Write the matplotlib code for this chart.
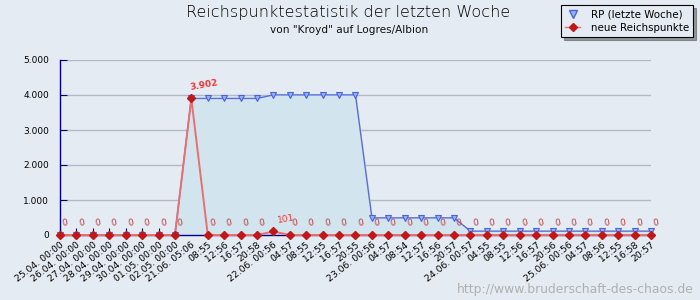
import matplotlib
matplotlib.use("Agg")
import matplotlib.pyplot as plt
from matplotlib.ticker import FuncFormatter
from matplotlib.lines import Line2D

labels = ["25.04. 00:00", "26.04. 00:00", "27.04. 00:00", "28.04. 00:00",
          "29.04. 00:00", "30.04. 00:00", "01.05. 00:00", "02.05. 00:00",
          "21.06. 05:06", "08:55", "12:56", "16:57", "20:58",
          "22.06. 00:56", "04:57", "08:55", "12:55", "16:57", "20:55",
          "23.06. 00:56", "04:57", "08:54", "12:57", "16:56", "20:57",
          "24.06. 00:57", "04:55", "08:55", "12:56", "16:57", "20:56",
          "25.06. 00:56", "04:57", "08:56", "12:55", "16:58", "20:57"]
rp = [0, 0, 0, 0, 0, 0, 0, 0,
      3902, 3902, 3902, 3902, 3902,
      4003, 4003, 4003, 4003, 4003, 4003,
      490, 490, 490, 490, 490, 490,
      110, 110, 110, 110, 110, 110,
      110, 110, 110, 110, 110, 110]
neu = [0, 0, 0, 0, 0, 0, 0, 0,
       3902, 0, 0, 0, 0,
       101, 0, 0, 0, 0, 0,
       0, 0, 0, 0, 0, 0,
       0, 0, 0, 0, 0, 0,
       0, 0, 0, 0, 0, 0]

bg = "#e5ebf2"
fig = plt.figure(figsize=(7, 3), dpi=100, facecolor=bg)
ax = fig.add_axes([60/700, 1-235/300, 591/700, 175/300], facecolor=bg)
x = list(range(len(labels)))

ax.yaxis.grid(True, color="#b4b8c4", linewidth=1)
ax.set_axisbelow(True)
ax.fill_between(x, rp, 0, color="#d2e4ee", zorder=1)
ax.plot(x, rp, color="#5a6ed6", linewidth=1, zorder=2)
ax.plot(x, rp, linestyle="none", marker="v", markersize=5,
        markerfacecolor="#8fb6f2", markeredgecolor="#4a62e0", markeredgewidth=0.8,
        zorder=3, clip_on=False)
ax.plot(x, neu, color="#e87070", linewidth=1.4, zorder=4, clip_on=False)
ax.plot(x, neu, linestyle="none", marker="D", markersize=3.8,
        markerfacecolor="#c01818", markeredgecolor="#c01818", zorder=5, clip_on=False)

for xi, v in zip(x, neu):
    txt = f"{v:,}".replace(",", ".")
    if v == 0:
        ax.annotate(txt, (xi, v), xytext=(3.5, 5), textcoords="offset points",
                    fontsize=6.5, color="#c04040", rotation=10, ha="center", va="bottom")
    else:
        ax.annotate(txt, (xi, v), xytext=(9, 5), textcoords="offset points",
                    fontsize=6.5, color="#f03838", rotation=10, ha="center", va="bottom",
                    fontweight="bold" if v > 1000 else "normal")

ax.set_xlim(0, len(labels) - 1)
ax.set_ylim(0, 5000)
ax.set_yticks([0, 1000, 2000, 3000, 4000, 5000])
ax.yaxis.set_major_formatter(FuncFormatter(lambda v, p: f"{int(v):,}".replace(",", ".")))
ax.set_xticks(x)
ax.set_xticklabels(labels, rotation=38, ha="right", rotation_mode="anchor", fontsize=6.7)
ax.tick_params(axis="x", direction="in", length=5, color="#000080", pad=4)
ax.tick_params(axis="y", direction="in", length=5, color="#000080", labelsize=6.5, pad=8)
for s in ["top", "right"]:
    ax.spines[s].set_visible(False)
for s in ["left", "bottom"]:
    ax.spines[s].set_color("#000080")
    ax.spines[s].set_linewidth(1)

fig.text(0.497, 0.958, "Reichspunktestatistik der letzten Woche", ha="center", va="center",
         fontsize=11.6, fontweight="light", color="#000000")
fig.text(0.499, 0.9, 'von "Kroyd" auf Logres/Albion', ha="center", va="center",
         fontsize=7.6, color="#101010")
fig.text(0.991, 0.035, "http://www.bruderschaft-des-chaos.de", ha="right", va="center",
         fontsize=8.9, color="#b0b0b0")

h1 = Line2D([], [], linestyle="none", marker="v", markersize=6,
            markerfacecolor="#8fb6f2", markeredgecolor="#4a62e0")
h2 = Line2D([], [], color="#e87070", linewidth=1, marker="D", markersize=4.5,
            markerfacecolor="#c01818", markeredgecolor="#c01818")
leg = fig.legend([h1, h2], ["RP (letzte Woche)", "neue Reichspunkte"],
                 loc="upper right", bbox_to_anchor=(0.99, 0.983), fontsize=7.4,
                 frameon=True, fancybox=False, shadow=True, facecolor=bg,
                 edgecolor="black", borderpad=0.4, labelspacing=0.35, handlelength=1.5,
                 handletextpad=1.0, borderaxespad=0)
leg.get_frame().set_linewidth(0.8)

fig.savefig("out.png", dpi=100, facecolor=bg)
